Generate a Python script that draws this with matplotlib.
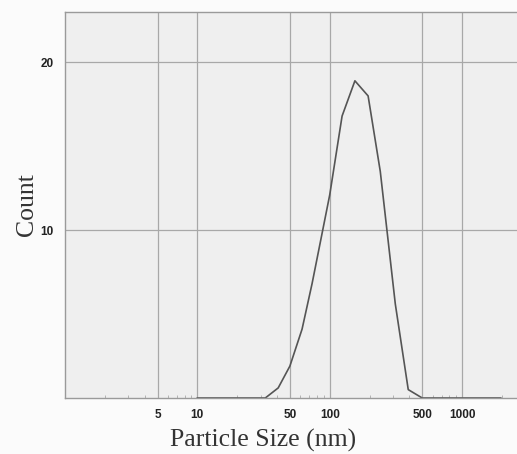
import numpy as np
import matplotlib.pyplot as plt
from matplotlib.ticker import FixedLocator, NullFormatter, LogLocator

# particle size distribution (nm vs count)
size_nm = [10, 32.6, 40.8, 50, 61.8, 73.5, 85, 100, 124, 155, 195, 241, 313, 392, 500, 1960]
count = [0, 0, 0.6, 1.9, 4.1, 6.8, 9.3, 12.1, 16.8, 18.9, 18.0, 13.5, 5.6, 0.5, 0, 0]

x_ticks = [5, 10, 50, 100, 500, 1000]
x_tick_labels = ['5', '10', '50', '100', '500', '1000']
y_ticks = [10, 20]

fig = plt.figure(figsize=(5.17, 4.54), dpi=100, facecolor='#fbfbfb')
ax = fig.add_axes([65 / 517, 1 - 398 / 454, 452 / 517, 386 / 454])
ax.set_facecolor('#efefef')

ax.plot(size_nm, count, color='#555555', lw=1.2)

ax.set_xscale('log')
ax.set_xlim(1, 2600)
ax.set_ylim(0, 23)

ax.xaxis.set_major_locator(FixedLocator(x_ticks))
ax.set_xticklabels(x_tick_labels)
ax.xaxis.set_minor_locator(LogLocator(base=10, subs=np.arange(2, 10)))
ax.xaxis.set_minor_formatter(NullFormatter())
ax.set_yticks(y_ticks)

ax.grid(True, which='major', color='#a8a8a8', lw=0.9)
ax.tick_params(axis='both', which='major', length=0, pad=8,
               labelsize=8.5, labelcolor='#222222')
ax.tick_params(axis='x', which='minor', length=2, direction='in', color='#aaaaaa')
for lab in ax.get_xticklabels() + ax.get_yticklabels():
    lab.set_fontfamily('Liberation Sans')
    lab.set_fontweight('bold')

for side in ['left', 'bottom', 'top']:
    ax.spines[side].set_color('#9a9a9a')
    ax.spines[side].set_linewidth(1)
ax.spines['right'].set_visible(False)

ax.set_xlabel('Particle Size (nm)', fontfamily='Liberation Serif', fontsize=18.5,
              color='#333333', va='center')
ax.xaxis.set_label_coords(0.438, -0.109)
ax.set_ylabel('Count', fontfamily='Liberation Serif', fontsize=18.5,
              color='#333333', va='center')
ax.yaxis.set_label_coords(-0.084, 0.5)

fig.savefig('out.png', dpi=100, facecolor=fig.get_facecolor())
